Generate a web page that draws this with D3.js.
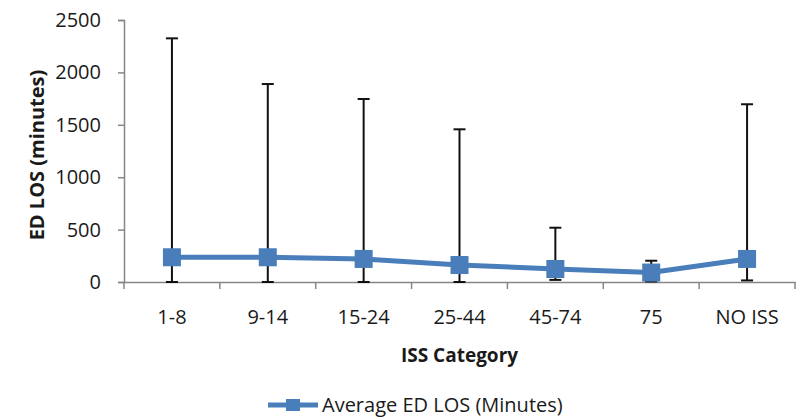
<!DOCTYPE html>
<html>
<head>
<meta charset="utf-8">
<script src="https://cdn.jsdelivr.net/npm/d3@7"></script>
<style>
  html, body { margin: 0; padding: 0; background: #fff; }
  svg { display: block; }
  text { font-family: "Open Sans", "DejaVu Sans", sans-serif; fill: #1a1a1a; }
</style>
</head>
<body>
<svg id="chart" width="802" height="419"></svg>
<script>
const categories = ["1-8", "9-14", "15-24", "25-44", "45-74", "75", "NO ISS"];
const averageLOS = [236, 236, 220, 162, 124, 90, 220];
const errUpper = [2325, 1889, 1746, 1457, 518, 203, 1696];
const errLower = [0, 0, 0, 0, 20, 5, 15];
const yTicks = [0, 500, 1000, 1500, 2000, 2500];
const seriesName = "Average ED LOS (Minutes)";
const xTitle = "ISS Category";
const yTitle = "ED LOS (minutes)";

(function () {
const svg = d3.select("#chart");
const mL = 124, mR = 795, mT = 20, mB = 282;
const blue = "#4a7ebb", axisCol = "#868686";

const x = d3.scaleBand().domain(categories).range([mL, mR]).padding(0);
const y = d3.scaleLinear().domain([0, 2500]).range([mB, mT]);

// Y axis
const yAxis = svg.append("g").attr("transform", `translate(${mL},0)`)
  .call(d3.axisLeft(y).tickValues(yTicks).tickSize(6).tickPadding(17).tickFormat(d3.format("d")));
yAxis.select(".domain").attr("stroke", axisCol).attr("stroke-width", 1.5);
yAxis.selectAll(".tick line").attr("stroke", axisCol).attr("stroke-width", 1.5);
yAxis.selectAll(".tick text").attr("font-size", 20).attr("fill", "#1a1a1a")
  .style("font-family", '"Open Sans", sans-serif');

// X axis
const xAxis = svg.append("g").attr("transform", `translate(0,${mB})`)
  .call(d3.axisBottom(x).tickSize(0).tickPadding(28));
xAxis.select(".domain").attr("stroke", axisCol).attr("stroke-width", 1.5);
xAxis.selectAll(".tick text").attr("font-size", 20).attr("fill", "#1a1a1a")
  .style("font-family", '"Open Sans", sans-serif');
// category boundary ticks
const bounds = categories.map(c => x(c)).concat([mR]);
svg.append("g").selectAll("line").data(bounds).join("line")
  .attr("x1", d => d).attr("x2", d => d)
  .attr("y1", mB).attr("y2", mB + 7)
  .attr("stroke", axisCol).attr("stroke-width", 1.5);

const cx = c => x(c) + x.bandwidth() / 2;
const data = categories.map((c, i) => ({c, v: averageLOS[i], hi: errUpper[i], lo: errLower[i]}));

// Error bars
const eb = svg.append("g").attr("stroke", "#111").attr("stroke-width", 2);
eb.selectAll("line.v").data(data).join("line").attr("class", "v")
  .attr("x1", d => cx(d.c)).attr("x2", d => cx(d.c))
  .attr("y1", d => y(d.lo)).attr("y2", d => y(d.hi));
eb.selectAll("line.t").data(data).join("line").attr("class", "t")
  .attr("x1", d => cx(d.c) - 6).attr("x2", d => cx(d.c) + 6)
  .attr("y1", d => y(d.hi)).attr("y2", d => y(d.hi));
eb.selectAll("line.b").data(data).join("line").attr("class", "b")
  .attr("x1", d => cx(d.c) - 6).attr("x2", d => cx(d.c) + 6)
  .attr("y1", d => y(d.lo)).attr("y2", d => y(d.lo));

// Line
svg.append("path").datum(data)
  .attr("fill", "none").attr("stroke", blue).attr("stroke-width", 5)
  .attr("d", d3.line().x(d => cx(d.c)).y(d => y(d.v)));

// Markers
const ms = 18;
svg.append("g").selectAll("rect").data(data).join("rect")
  .attr("x", d => cx(d.c) - ms / 2).attr("y", d => y(d.v) - ms / 2)
  .attr("width", ms).attr("height", ms).attr("fill", blue);

// Axis titles
svg.append("text").attr("x", (mL + mR) / 2).attr("y", 362)
  .attr("text-anchor", "middle").attr("font-size", 19).attr("font-weight", "bold")
  .text(xTitle);
svg.append("text").attr("transform", `translate(44,155) rotate(-90)`)
  .attr("text-anchor", "middle").attr("font-size", 20).attr("font-weight", "bold")
  .text(yTitle);

// Legend
const lg = svg.append("g");
lg.append("line").attr("x1", 268).attr("x2", 318).attr("y1", 405).attr("y2", 405)
  .attr("stroke", blue).attr("stroke-width", 5);
lg.append("rect").attr("x", 293 - 7).attr("y", 405 - 6).attr("width", 14).attr("height", 12).attr("fill", blue);
lg.append("text").attr("x", 322).attr("y", 412).attr("font-size", 20).text(seriesName);
})();
</script>
</body>
</html>
